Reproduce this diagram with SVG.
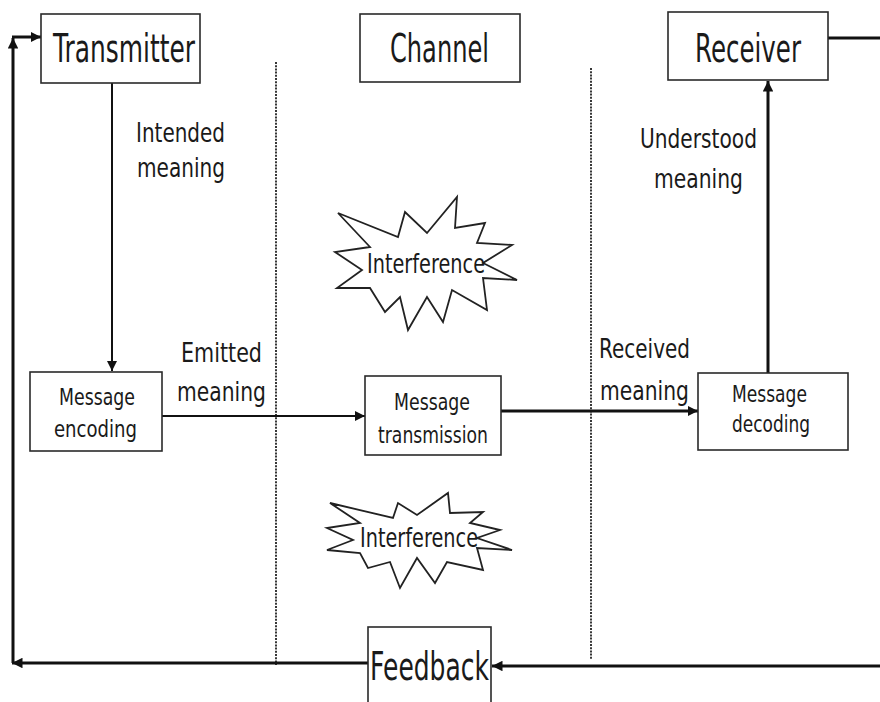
<svg xmlns="http://www.w3.org/2000/svg" width="880" height="702" viewBox="0 0 880 702">
<style>
.box{fill:#fff;stroke:#2a2a2a;stroke-width:1.6}
.t{font-family:"DejaVu Sans","Liberation Sans",sans-serif;fill:#1a1a1a;text-anchor:start}
.big{font-size:39px}
.mid{font-size:27px}
.sm{font-size:23px}
.ln{stroke:#111;stroke-width:2;fill:none}
.thick{stroke:#111;stroke-width:3;fill:none}
.dot{stroke:#222;stroke-width:1.8;stroke-dasharray:2,1.2;fill:none}
.star{fill:#fff;stroke:#222;stroke-width:1.8;stroke-linejoin:miter}
</style>
<defs>
<marker id="ah" viewBox="0 0 10 10" refX="10" refY="5" markerWidth="5" markerHeight="5" orient="auto" markerUnits="strokeWidth">
<path d="M0,0 L10,5 L0,10 z" fill="#111"/>
</marker>
<marker id="ah3" viewBox="0 0 10 10" refX="10" refY="5" markerWidth="3.5" markerHeight="3.5" orient="auto" markerUnits="strokeWidth">
<path d="M0,0 L10,5 L0,10 z" fill="#111"/>
</marker>
</defs>
<rect width="880" height="702" fill="#fff"/>

<g id="dividers">
<line class="dot" x1="276" y1="62" x2="276" y2="665"/>
<line class="dot" x1="591" y1="68" x2="591" y2="660"/>
</g>

<g id="connectors">
<line class="ln" x1="112" y1="83" x2="112" y2="371" marker-end="url(#ah)"/>
<line class="ln" x1="162" y1="416" x2="365" y2="416" marker-end="url(#ah)"/>
<line class="thick" x1="501" y1="411" x2="698" y2="411" marker-end="url(#ah3)"/>
<line class="thick" x1="768" y1="373" x2="768" y2="81" marker-end="url(#ah3)"/>
<line class="thick" x1="828" y1="38" x2="880" y2="38"/>
<line class="thick" x1="880" y1="666" x2="492" y2="666" marker-end="url(#ah3)"/>
<line class="thick" x1="368" y1="663" x2="12" y2="663" marker-end="url(#ah3)"/>
<line class="thick" x1="13" y1="663" x2="13" y2="38" marker-end="url(#ah3)"/>
<line class="thick" x1="12" y1="37" x2="41" y2="37" marker-end="url(#ah3)"/>
</g>

<g id="transmitter">
<rect class="box" x="41" y="14" width="159" height="69"/>
<text class="t big" x="53" y="62" textLength="142" lengthAdjust="spacingAndGlyphs">Transmitter</text>
</g>
<g id="channel">
<rect class="box" x="360" y="14" width="160" height="68"/>
<text class="t big" x="390" y="62" textLength="99" lengthAdjust="spacingAndGlyphs">Channel</text>
</g>
<g id="receiver">
<rect class="box" x="668" y="12" width="160" height="68"/>
<text class="t big" x="695" y="62" textLength="106" lengthAdjust="spacingAndGlyphs">Receiver</text>
</g>

<g id="label-intended">
<text class="t mid" x="136" y="142" textLength="89" lengthAdjust="spacingAndGlyphs">Intended</text>
<text class="t mid" x="137" y="177" textLength="88" lengthAdjust="spacingAndGlyphs">meaning</text>
</g>
<g id="label-understood">
<text class="t mid" x="640" y="148" textLength="117" lengthAdjust="spacingAndGlyphs">Understood</text>
<text class="t mid" x="654" y="188" textLength="89" lengthAdjust="spacingAndGlyphs">meaning</text>
</g>
<g id="label-emitted">
<text class="t mid" x="181" y="362" textLength="81" lengthAdjust="spacingAndGlyphs">Emitted</text>
<text class="t mid" x="177" y="401" textLength="89" lengthAdjust="spacingAndGlyphs">meaning</text>
</g>
<g id="label-received">
<text class="t mid" x="599" y="358" textLength="91" lengthAdjust="spacingAndGlyphs">Received</text>
<text class="t mid" x="600" y="400" textLength="89" lengthAdjust="spacingAndGlyphs">meaning</text>
</g>

<g id="interference-top">
<polygon class="star" points="338,213 398,237 405,212 427,233 457,197 455,228 485,223 477,243 512,245 483,263 517,280 483,278 487,310 452,290 443,322 427,297 408,330 400,297 385,312 370,288 337,288 362,270 335,252 370,247"/>
<text class="t mid" x="367" y="273" textLength="118" lengthAdjust="spacingAndGlyphs">Interference</text>
</g>
<g id="interference-bottom">
<polygon class="star" points="330,503 393,518 398,503 417,515 448,493 450,513 483,512 470,523 500,530 477,538 512,550 477,548 483,570 447,562 435,583 417,558 400,588 390,562 368,568 360,553 327,550 353,540 327,528 360,523"/>
<text class="t mid" x="360" y="547" textLength="118" lengthAdjust="spacingAndGlyphs">Interference</text>
</g>

<g id="message-encoding">
<rect class="box" x="30" y="372" width="132" height="79"/>
<text class="t sm" x="59" y="405" textLength="76" lengthAdjust="spacingAndGlyphs">Message</text>
<text class="t sm" x="54" y="437" textLength="83" lengthAdjust="spacingAndGlyphs">encoding</text>
</g>
<g id="message-transmission">
<rect class="box" x="365" y="376" width="136" height="79"/>
<text class="t sm" x="394" y="410" textLength="76" lengthAdjust="spacingAndGlyphs">Message</text>
<text class="t sm" x="378" y="443" textLength="110" lengthAdjust="spacingAndGlyphs">transmission</text>
</g>
<g id="message-decoding">
<rect class="box" x="698" y="373" width="150" height="77"/>
<text class="t sm" x="732" y="402" textLength="75" lengthAdjust="spacingAndGlyphs">Message</text>
<text class="t sm" x="732" y="432" textLength="78" lengthAdjust="spacingAndGlyphs">decoding</text>
</g>

<g id="feedback">
<rect class="box" x="368" y="627" width="123" height="80"/>
<text class="t big" x="370" y="680" textLength="119" lengthAdjust="spacingAndGlyphs">Feedback</text>
</g>
</svg>
